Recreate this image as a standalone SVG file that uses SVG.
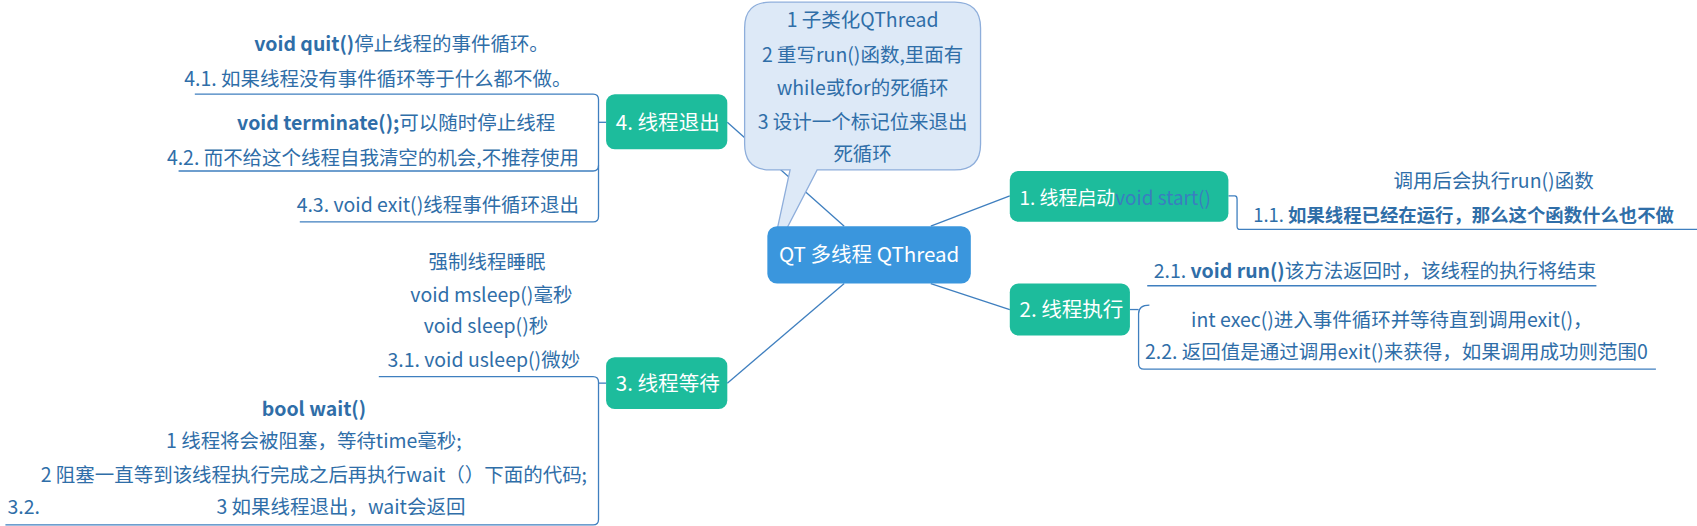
<svg xmlns="http://www.w3.org/2000/svg" width="1697" height="526" viewBox="0 0 1697 526">
<style>
text{font-family:"Noto Sans CJK SC","Open Sans",sans-serif;font-size:18px;fill:#2f6ea8}
.w{fill:#fff;font-size:19px}
.b{font-weight:bold}
.c{text-anchor:middle}
.r{text-anchor:end}
.ln{fill:none;stroke:#3f7fbf;stroke-width:1.2}
.g{fill:#1dbc9c}
</style>
<rect width="1697" height="526" fill="#fff"/>
<g transform="scale(1.0823)">
<g id="connectors" class="ln">
<path d="M860 209 L933 181"/>
<path d="M860 262 L933 286"/>
<path d="M780 209 L672 113"/>
<path d="M780 262 L672 354"/>
<path d="M1135 181 H1141 Q1143 181 1143 184 V209 Q1143 212 1146 212 H1697"/>
<path d="M1044 286 H1052"/>
<path d="M1060 264 H1475"/>
<path d="M1062 282 Q1052 282 1052 290 V336 Q1052 341 1057 341 H1530"/>
<path d="M560 113 H553"/>
<path d="M180 87 H548 Q553 87 553 92 V200 Q553 205 548 205 H277"/>
<path d="M165 158 H548 Q553 158 553 153"/>
<path d="M560 354 H553"/>
<path d="M350 348 H548 Q553 348 553 353 V480 Q553 485 548 485 H5"/>
</g>
<g id="callout">
<path d="M712 2 H882 Q906 2 906 26 V133 Q906 157 882 157 H755 L712 240 L730 157 H712 Q688 157 688 133 V26 Q688 2 712 2 Z" fill="#dde9f7" stroke="#8eaedb" stroke-width="1.2"/>
<text class="c" x="797" y="25">1 子类化QThread</text>
<text class="c" x="797" y="57">2 重写run()函数,里面有</text>
<text class="c" x="797" y="88">while或for的死循环</text>
<text class="c" x="797" y="119">3 设计一个标记位来退出</text>
<text class="c" x="797" y="149">死循环</text>
</g>
<g id="center">
<rect x="709" y="209" width="188" height="53" rx="9" fill="#3a96dd"/>
<text class="w c" x="803" y="242">QT 多线程 QThread</text>
</g>
<g id="node1">
<rect class="g" x="933" y="158" width="202" height="47" rx="8"/>
<text class="w" x="942" y="189" style="font-size:17.5px">1. 线程启动<tspan style="fill:#3a7ec0">void start()</tspan></text>
<text class="c" x="1380" y="174">调用后会执行run()函数</text>
<text x="1158" y="205" style="font-size:17px">1.1. <tspan class="b">如果线程已经在运行，那么这个函数什么也不做</tspan></text>
</g>
<g id="node2">
<rect class="g" x="933" y="262" width="111" height="48" rx="8"/>
<text class="w" x="942" y="293">2. 线程执行</text>
<text x="1066" y="257">2.1. <tspan class="b">void run()</tspan>该方法返回时，该线程的执行将结束</text>
<text class="c" x="1286" y="302">int exec()进入事件循环并等待直到调用exit()，</text>
<text x="1058" y="332">2.2. 返回值是通过调用exit()来获得，如果调用成功则范围0</text>
</g>
<g id="node4">
<rect class="g" x="560" y="87" width="112" height="51" rx="8"/>
<text class="w" x="569" y="120">4. 线程退出</text>
<text class="c" x="371" y="47"><tspan class="b">void quit()</tspan>停止线程的事件循环。</text>
<text class="r" x="528" y="79">4.1. 如果线程没有事件循环等于什么都不做。</text>
<text class="c" x="366" y="120"><tspan class="b">void terminate();</tspan>可以随时停止线程</text>
<text class="r" x="535" y="152">4.2. 而不给这个线程自我清空的机会,不推荐使用</text>
<text class="r" x="535" y="196">4.3. void exit()线程事件循环退出</text>
</g>
<g id="node3">
<rect class="g" x="560" y="330" width="112" height="48" rx="8"/>
<text class="w" x="569" y="361">3. 线程等待</text>
<text class="c" x="450" y="249">强制线程睡眠</text>
<text class="c" x="454" y="279">void msleep()毫秒</text>
<text class="c" x="449" y="308">void sleep()秒</text>
<text class="r" x="536" y="339">3.1. void usleep()微妙</text>
<text class="c b" x="290" y="384">bool wait()</text>
<text class="c" x="290" y="414">1 线程将会被阻塞，等待time毫秒;</text>
<text class="c" x="290" y="445">2 阻塞一直等到该线程执行完成之后再执行wait（）下面的代码;</text>
<text x="7" y="475">3.2.</text>
<text class="c" x="315" y="475">3 如果线程退出，wait会返回</text>
</g>
</g>
</svg>
